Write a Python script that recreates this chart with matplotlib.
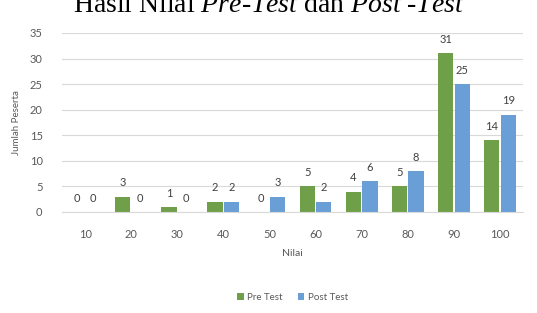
import numpy as np
import matplotlib.pyplot as plt

nilai = ["10", "20", "30", "40", "50", "60", "70", "80", "90", "100"]
pre_test = [0, 3, 1, 2, 0, 5, 4, 5, 31, 14]
post_test = [0, 0, 0, 2, 3, 2, 6, 8, 25, 19]

green = "#6f9f48"
blue = "#6a9ed6"
grey = "#595959"

plt.rcParams["font.family"] = ["Lato", "DejaVu Sans"]
plt.rcParams["mathtext.fontset"] = "custom"
plt.rcParams["mathtext.rm"] = "Liberation Serif"
plt.rcParams["mathtext.it"] = "Liberation Serif:italic"

fig = plt.figure(figsize=(5.37, 3.13), dpi=100)
ax = fig.add_axes([0.1155, 0.3227, 0.8585, 0.5719])

x = np.arange(len(nilai))
w = 0.33
b1 = ax.bar(x - w / 2 - 0.015, pre_test, w, color=green, label="Pre Test")
b2 = ax.bar(x + w / 2 + 0.015, post_test, w, color=blue, label="Post Test")

for bars in (b1, b2):
    for rect in bars:
        h = rect.get_height()
        ax.annotate(f"{h:.0f}", (rect.get_x() + rect.get_width() / 2, h),
                    xytext=(0, 6), textcoords="offset points",
                    ha="center", va="bottom", fontsize=8, color="#404040")

ax.set_xlim(-0.5, len(nilai) - 0.5)
ax.set_ylim(0, 35)
ax.set_yticks(range(0, 36, 5))
ax.set_xticks(x)
ax.set_xticklabels(nilai)
ax.yaxis.grid(True, color="#d9d9d9", linewidth=0.8)
ax.set_axisbelow(True)
for s in ("top", "right", "left"):
    ax.spines[s].set_visible(False)
ax.spines["bottom"].set_color("#d9d9d9")
ax.tick_params(length=0, labelsize=8, colors=grey)
ax.tick_params(axis="x", pad=12)
ax.tick_params(axis="y", pad=14)

ax.set_xlabel("Nilai", fontsize=7.5, color=grey, labelpad=7)
ax.set_ylabel("Jumlah Peserta", fontsize=7, color=grey, labelpad=6)

ax.legend(loc="center", bbox_to_anchor=(0.5, -0.475), ncol=2, frameon=False,
          fontsize=7, handlelength=0.7, handleheight=0.7, columnspacing=1.5,
          handletextpad=0.4, labelcolor=grey)

fig.text(0.5, 1 - 12 / 313,
         r"Hasil Nilai $\mathit{Pre}$-$\mathit{Test}$ dan $\mathit{Post}$ -$\mathit{Test}$",
         ha="center", va="baseline", fontsize=20, family="Liberation Serif")

fig.savefig("out.png", dpi=100)
